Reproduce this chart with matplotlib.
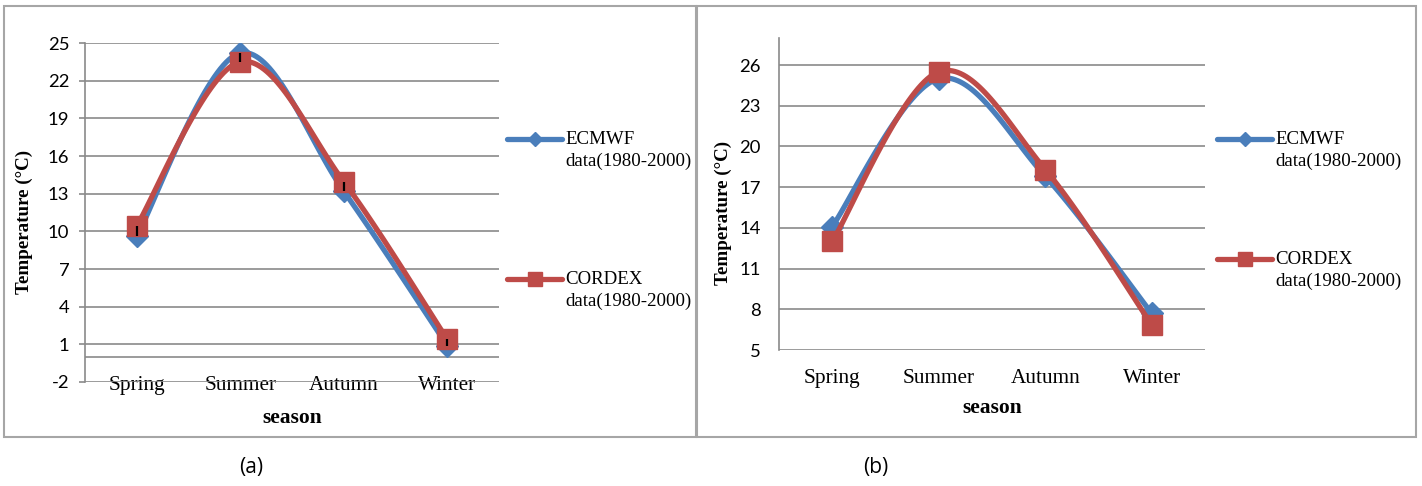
import numpy as np
import matplotlib
matplotlib.use("Agg")
import matplotlib.pyplot as plt
from matplotlib.lines import Line2D
from matplotlib.patches import Rectangle

# ---------------- data ----------------
seasons = ["Spring", "Summer", "Autumn", "Winter"]
ecmwf_a = [9.6, 24.2, 13.2, 0.9]
cordex_a = [10.45, 23.5, 13.95, 1.4]
ecmwf_b = [14.1, 25.0, 17.8, 7.7]
cordex_b = [13.0, 25.5, 18.3, 6.85]
yticks_a = [-2, 1, 4, 7, 10, 13, 16, 19, 22, 25]
yticks_b = [5, 8, 11, 14, 17, 20, 23, 26]
series_names = ["ECMWF", "CORDEX"]
series_sub = "data(1980-2000)"
panel_tags = ["(a)", "(b)"]

W, H = 1422, 486
BLUE = "#4A7EBB"
RED = "#BE4B48"
GRID = "#8A8A8A"
BOX = "#A6A6A6"
SERIF = "Liberation Serif"
SANS = "Lato"

fig = plt.figure(figsize=(W / 100, H / 100), dpi=100)


def fx(x):
    return x / W


def fy(y):
    return 1 - y / H


def smooth(xs, ys, n=40):
    p = np.column_stack([xs, ys]).astype(float)
    ext = np.vstack([p[0], p, p[-1]])
    out = []
    for i in range(len(p) - 1):
        p0, p1, p2, p3 = ext[i], ext[i + 1], ext[i + 2], ext[i + 3]
        c1 = p1 + (p2 - p0) / 6
        c2 = p2 - (p3 - p1) / 6
        t = np.linspace(0, 1, n)[:, None]
        seg = ((1 - t) ** 3) * p1 + 3 * ((1 - t) ** 2) * t * c1 + 3 * (1 - t) * t ** 2 * c2 + t ** 3 * p2
        out.append(seg if i == 0 else seg[1:])
    out = np.vstack(out)
    return out[:, 0], out[:, 1]


def make_panel(rect_px, ylim, yticks, e, c, tick_len, ypad, xpad, hilo, zero_line):
    l, t, r, b = rect_px
    ax = fig.add_axes([fx(l), fy(b), fx(r - l), (b - t) / H])
    x = np.arange(len(seasons))
    ax.set_xlim(-0.5, len(seasons) - 0.5)
    ax.set_ylim(*ylim)
    ax.set_yticks(yticks)
    ax.set_yticklabels([str(v) for v in yticks], fontfamily=SANS, fontsize=13.3)
    ax.set_xticks(x)
    ax.set_xticklabels(seasons, fontfamily=SERIF, fontsize=15.3)
    ax.tick_params(axis="y", length=tick_len, width=1.2, color=GRID, pad=ypad)
    ax.tick_params(axis="x", length=0, pad=xpad)
    ax.grid(axis="y", color=GRID, lw=1.2)
    ax.set_axisbelow(True)
    for s in ["top", "right", "bottom"]:
        ax.spines[s].set_visible(False)
    ax.spines["left"].set_color(GRID)
    ax.spines["left"].set_linewidth(1.2)
    if zero_line:
        ax.axhline(0, color=GRID, lw=1.2, zorder=1)
    sx, sy = smooth(x, e)
    ax.plot(sx, sy, color=BLUE, lw=3.8, solid_capstyle="round", zorder=3)
    ax.plot(x, e, ls="none", marker="D", ms=11, color=BLUE, zorder=4)
    sx, sy = smooth(x, c)
    ax.plot(sx, sy, color=RED, lw=3.8, solid_capstyle="round", zorder=5)
    ax.plot(x, c, ls="none", marker="s", ms=14, color=RED, zorder=6)
    if hilo:
        lo = np.minimum(e, c)
        hi = np.maximum(e, c)
        ax.vlines(x, lo, hi, color="black", lw=1.6, zorder=7)
    ax.patch.set_visible(False)
    return ax


# panel boxes
fig.add_artist(Rectangle((fx(4), fy(437)), fx(692), (437 - 6) / H, fill=False, ec=BOX, lw=1.5))
fig.add_artist(Rectangle((fx(697), fy(437)), fx(719), (437 - 6) / H, fill=False, ec=BOX, lw=1.5))

axa = make_panel((85, 43, 499, 382), (-2, 25), yticks_a, ecmwf_a, cordex_a,
                 tick_len=4.3, ypad=7, xpad=-4.5, hilo=True, zero_line=True)
axb = make_panel((779, 65 - 27.1, 1205, 350), (5, 28), yticks_b, ecmwf_b, cordex_b,
                 tick_len=0, ypad=13, xpad=13.5, hilo=False, zero_line=False)

# axis titles
fig.text(fx(24), fy(222), "Temperature (°C)", rotation=90, ha="center", va="center",
         fontfamily=SERIF, fontweight="bold", fontsize=13.7)
fig.text(fx(723), fy(213), "Temperature (°C)", rotation=90, ha="center", va="center",
         fontfamily=SERIF, fontweight="bold", fontsize=13.7)
fig.text(fx(292), fy(418), "season", ha="center", va="center",
         fontfamily=SERIF, fontweight="bold", fontsize=15.5)
fig.text(fx(992), fy(408), "season", ha="center", va="center",
         fontfamily=SERIF, fontweight="bold", fontsize=15.5)

# legends
def legend_entry(x0, y, color, marker, ms, name):
    fig.add_artist(Line2D([fx(x0), fx(x0 + 55)], [fy(y), fy(y)], color=color, lw=3.8,
                          solid_capstyle="round"))
    fig.add_artist(Line2D([fx(x0 + 27.5)], [fy(y)], color=color, marker=marker, ms=ms, ls="none"))
    fig.text(fx(x0 + 58), fy(y), name, ha="left", va="center", fontfamily=SERIF, fontsize=13.6)
    fig.text(fx(x0 + 58), fy(y + 22), series_sub, ha="left", va="center", fontfamily=SERIF, fontsize=13.6)


legend_entry(507, 139, BLUE, "D", 7, series_names[0])
legend_entry(507, 279, RED, "s", 10, series_names[1])
legend_entry(1217, 139, BLUE, "D", 7, series_names[0])
legend_entry(1217, 259, RED, "s", 10, series_names[1])

# captions
fig.text(fx(251), fy(467), panel_tags[0], ha="center", va="center", fontfamily="Open Sans", fontsize=15)
fig.text(fx(876), fy(467), panel_tags[1], ha="center", va="center", fontfamily="Open Sans", fontsize=15)

fig.savefig("out.png", dpi=100)
